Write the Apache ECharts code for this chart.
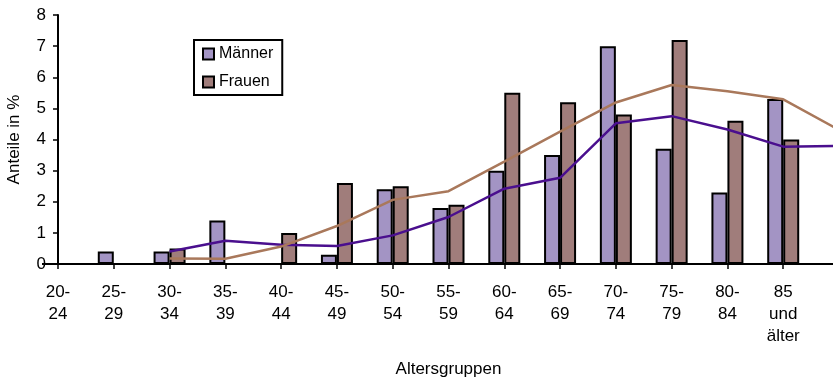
<!DOCTYPE html>
<html>
<head>
<meta charset="utf-8">
<script src="https://cdn.jsdelivr.net/npm/echarts@6/dist/echarts.min.js"></script>
<style>
  html, body { margin: 0; padding: 0; background: #fff; }
  #chart { width: 833px; height: 379px; }
</style>
</head>
<body>
<div id="chart"></div>
<script>
// Age groups (the last slot is an unlabelled continuation of the trend lines)
const ageGroups = ['20-\n24', '25-\n29', '30-\n34', '35-\n39', '40-\n44', '45-\n49', '50-\n54',
  '55-\n59', '60-\n64', '65-\n69', '70-\n74', '75-\n79', '80-\n84', '85\nund\nälter', ''];

// Shares in percent per age group
const maenner = [0, 0.4, 0.4, 1.4, 0, 0.3, 2.4, 1.8, 3.0, 3.5, 7.0, 3.7, 2.3, 5.3, null];
const frauen  = [0, 0, 0.5, 0, 1.0, 2.6, 2.5, 1.9, 5.5, 5.2, 4.8, 7.2, 4.6, 4.0, null];

// Smoothed trend per group
const trendMaenner = [null, null, 0.40, 0.75, 0.62, 0.58, 0.92, 1.51, 2.42, 2.77, 4.52, 4.75, 4.32, 3.77, 3.79];
const trendFrauen  = [null, null, 0.18, 0.17, 0.56, 1.22, 2.06, 2.34, 3.29, 4.25, 5.19, 5.75, 5.55, 5.29, 4.31];

const yTicks = { min: 0, max: 8, interval: 1 };

const FONT = "'Liberation Sans', Arial, sans-serif";
const chart = echarts.init(document.getElementById('chart'), null, { renderer: 'canvas' });

chart.setOption({
  animation: false,
  backgroundColor: '#ffffff',
  textStyle: { fontFamily: FONT, color: '#000' },
  grid: { left: 58, right: -6, top: 15, bottom: 115, containLabel: false, outerBoundsMode: 'none' },
  legend: {
    data: ['Männer', 'Frauen'],
    orient: 'vertical',
    left: 194,
    top: 40,
    padding: [6, 9, 5, 8],
    itemWidth: 11,
    itemHeight: 11,
    itemGap: 12,
    icon: 'rect',
    borderColor: '#000',
    borderWidth: 2,
    backgroundColor: '#fff',
    textStyle: { fontFamily: FONT, fontSize: 16, color: '#000', lineHeight: 16 }
  },
  xAxis: {
    type: 'category',
    data: ageGroups,
    boundaryGap: false,
    name: 'Altersgruppen',
    nameLocation: 'middle',
    nameGap: 97,
    nameTextStyle: { fontFamily: FONT, fontSize: 17, color: '#000' },
    axisLine: { lineStyle: { color: '#000', width: 2 } },
    axisTick: { show: true, length: 5, lineStyle: { color: '#000', width: 1.5 } },
    axisLabel: {
      interval: 0, margin: 17, fontFamily: FONT, fontSize: 17, color: '#000',
      lineHeight: 22, verticalAlign: 'top'
    },
    splitLine: { show: false }
  },
  yAxis: {
    type: 'value',
    min: yTicks.min,
    max: yTicks.max,
    interval: yTicks.interval,
    name: 'Anteile in %',
    nameLocation: 'middle',
    nameGap: 35,
    nameRotate: 90,
    nameTextStyle: { fontFamily: FONT, fontSize: 17, color: '#000' },
    axisLine: { show: true, lineStyle: { color: '#000', width: 2 } },
    axisTick: { show: true, length: 5, lineStyle: { color: '#000', width: 1.5 } },
    axisLabel: { margin: 12, fontFamily: FONT, fontSize: 17, color: '#000' },
    splitLine: { show: false }
  },
  series: [
    {
      name: 'Männer',
      type: 'bar',
      data: maenner,
      barWidth: 16,
      barGap: '0%',
      itemStyle: { color: '#a394c4', borderColor: '#000', borderWidth: 2 },
      z: 2
    },
    {
      name: 'Frauen',
      type: 'bar',
      data: frauen,
      barWidth: 16,
      barGap: '0%',
      itemStyle: { color: '#a07d7b', borderColor: '#000', borderWidth: 2 },
      z: 2
    },
    {
      name: 'Trend Männer',
      type: 'line',
      data: trendMaenner,
      symbol: 'none',
      lineStyle: { color: '#4a0f8e', width: 2.5 },
      z: 3
    },
    {
      name: 'Trend Frauen',
      type: 'line',
      data: trendFrauen,
      symbol: 'none',
      lineStyle: { color: '#a9785b', width: 2.5 },
      z: 3
    }
  ]
});
</script>
</body>
</html>
